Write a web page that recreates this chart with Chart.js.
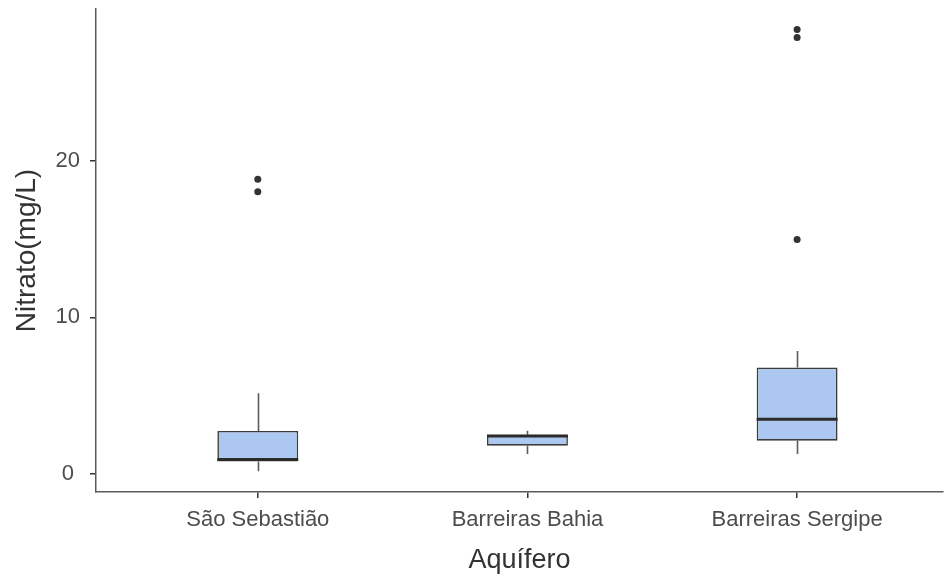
<!DOCTYPE html>
<html lang="pt">
<head>
<meta charset="utf-8">
<title>Nitrato por aquífero</title>
<script src="https://cdn.jsdelivr.net/npm/chart.js@4/dist/chart.umd.min.js"></script>
<style>
  html, body { margin: 0; padding: 0; background: #ffffff; }
  canvas { display: block; }
</style>
</head>
<body>
<canvas id="grafico" width="947" height="577"></canvas>
<script>
// Resumo dos boxplots de nitrato (mg/L) por aquífero
const aquiferos = ['São Sebastião', 'Barreiras Bahia', 'Barreiras Sergipe'];
const minimo  = [0.17, 1.28, 1.28];
const q1      = [0.80, 1.81, 2.13];
const mediana = [0.92, 2.42, 3.49];
const q3      = [2.75, 2.51, 6.80];
const maximo  = [5.16, 2.77, 7.86];

// Valores atípicos: posição do aquífero (1..3) e concentração
const outlierAquifero = [1, 1, 3, 3, 3];
const outlierValor    = [18.83, 18.02, 28.39, 27.88, 14.97];

const yTicks = [0, 10, 20];

const FONTE = "'Liberation Sans', Arial, sans-serif";

// Bigodes (atrás da caixa) e medianas (por cima)
const boxplotExtras = {
  id: 'boxplotExtras',
  beforeDatasetsDraw(chart) {
    const { ctx, scales: { x, y } } = chart;
    ctx.save();
    ctx.strokeStyle = '#5c5c5c';
    ctx.lineWidth = 1.6;
    aquiferos.forEach((_, i) => {
      const px = Math.round(x.getPixelForValue(i + 1)) + 0.5;
      ctx.beginPath();
      ctx.moveTo(px, y.getPixelForValue(maximo[i]));
      ctx.lineTo(px, y.getPixelForValue(q3[i]));
      ctx.moveTo(px, y.getPixelForValue(q1[i]));
      ctx.lineTo(px, y.getPixelForValue(minimo[i]));
      ctx.stroke();
    });
    ctx.restore();
  },
  afterDatasetDraw(chart, args) {
    if (args.index !== 0) return;
    const { ctx, scales: { y } } = chart;
    const meta = chart.getDatasetMeta(0);
    ctx.save();
    ctx.strokeStyle = '#2b2b2b';
    ctx.lineWidth = 3;
    meta.data.forEach((bar, i) => {
      const half = bar.width / 2;
      const py = y.getPixelForValue(mediana[i]);
      ctx.beginPath();
      ctx.moveTo(bar.x - half, py);
      ctx.lineTo(bar.x + half, py);
      ctx.stroke();
    });
    ctx.restore();
  }
};

new Chart(document.getElementById('grafico'), {
  type: 'bar',
  data: {
    datasets: [
      {
        label: 'Caixa',
        data: aquiferos.map((_, i) => ({ x: i + 1, y: [q1[i], q3[i]] })),
        backgroundColor: '#adc8f0',
        borderColor: '#3c3c3c',
        borderWidth: 1.6,
        borderSkipped: false,
        categoryPercentage: 1,
        barPercentage: 0.3,
        order: 2
      },
      {
        type: 'scatter',
        label: 'Atípicos',
        data: outlierValor.map((v, i) => ({ x: outlierAquifero[i], y: v })),
        backgroundColor: '#333333',
        borderWidth: 0,
        pointRadius: 3.5,
        order: 1
      }
    ]
  },
  options: {
    responsive: false,
    animation: false,
    devicePixelRatio: 1,
    layout: { padding: { left: 0, right: 0, top: 9, bottom: 0 } },
    plugins: {
      legend: { display: false },
      tooltip: { enabled: false }
    },
    scales: {
      x: {
        type: 'linear',
        offset: false,
        min: 0.4,
        max: 3.541,
        afterBuildTicks(axis) {
          axis.ticks = aquiferos.map((_, i) => ({ value: i + 1 }));
        },
        afterFit(axis) {
          axis.height = 85;
          axis.paddingLeft = 0;
          axis.paddingRight = 0;
        },
        ticks: {
          callback: (v) => aquiferos[v - 1],
          color: '#4d4d4d',
          font: { family: FONTE, size: 22 },
          padding: 9,
          maxRotation: 0,
          autoSkip: false
        },
        grid: {
          display: true,
          offset: false,
          drawOnChartArea: false,
          drawTicks: true,
          tickLength: 6,
          color: '#333333',
          lineWidth: 1.5
        },
        border: { display: true, color: '#5a5a5a', width: 1.5 },
        title: {
          display: true,
          text: 'Aquífero',
          color: '#333333',
          font: { family: FONTE, size: 27 },
          padding: { top: 0, bottom: 0 }
        }
      },
      y: {
        type: 'linear',
        min: -1.15,
        max: 29.7,
        afterBuildTicks(axis) {
          axis.ticks = yTicks.map(v => ({ value: v }));
        },
        afterFit(axis) {
          axis.width = 96;
          axis.paddingTop = 0;
          axis.paddingBottom = 0;
        },
        ticks: {
          color: '#4d4d4d',
          font: { family: FONTE, size: 22 },
          padding: 10,
          crossAlign: 'center'
        },
        grid: {
          display: true,
          drawOnChartArea: false,
          drawTicks: true,
          tickLength: 6,
          color: '#333333',
          lineWidth: 1.5
        },
        border: { display: true, color: '#5a5a5a', width: 1.5 },
        title: {
          display: true,
          text: 'Nitrato(mg/L)',
          color: '#333333',
          font: { family: FONTE, size: 28 },
          padding: { top: 10, bottom: 0 }
        }
      }
    }
  },
  plugins: [boxplotExtras]
});
</script>
</body>
</html>
